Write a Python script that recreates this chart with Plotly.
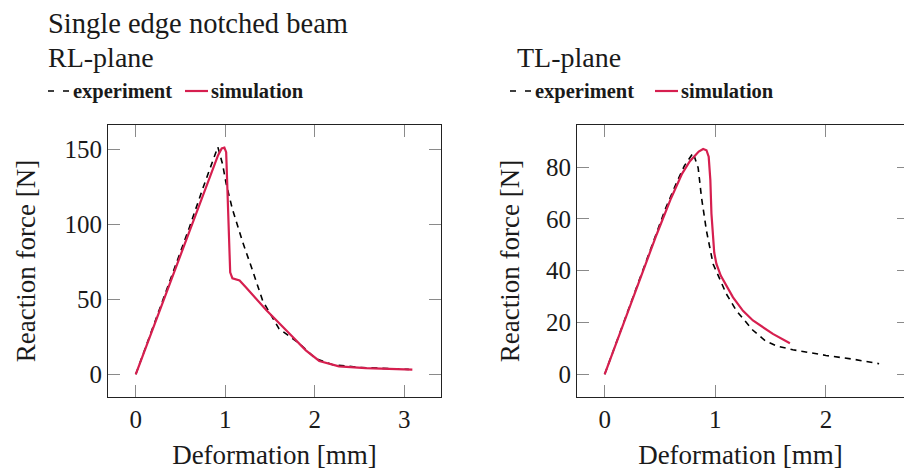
import plotly.graph_objects as go

# ---- data: reaction force vs. deformation -------------------------------
# RL-plane
rl_exp_x = [0.0, 0.3, 0.6, 0.75, 0.85, 0.917, 0.97, 1.01, 1.08, 1.195, 1.306,
            1.418, 1.6, 1.83, 2.01, 2.2, 2.5, 2.8, 3.05]
rl_exp_y = [0.0, 48.5, 98, 124, 141, 151.5, 140, 127, 110, 88, 69,
            49, 30.4, 20.4, 10.4, 6.4, 4.6, 3.8, 3.3]
rl_sim_x = [0.0, 0.3, 0.6, 0.75, 0.85, 0.92, 0.96, 0.99, 1.01, 1.025, 1.04,
            1.055, 1.08, 1.12, 1.16, 1.23, 1.35, 1.46, 1.68, 1.9, 2.05,
            2.27, 2.57, 2.85, 3.09]
rl_sim_y = [0.0, 48, 96, 120, 136, 146, 150.5, 151, 148, 125, 90,
            68, 64, 63, 62.5, 58, 50, 42.7, 29.3, 16, 8.9,
            5.3, 4.2, 3.6, 3.1]

# TL-plane
tl_exp_x = [0.0, 0.3, 0.55, 0.65, 0.72, 0.8, 0.845, 0.875, 0.92, 0.98, 1.1,
            1.19, 1.34, 1.45, 1.55, 1.7, 2.0, 2.25, 2.48]
tl_exp_y = [0.0, 35, 64, 74, 80.5, 85.5, 79.7, 68.3, 55.4, 42.6, 31,
            24.6, 17, 13, 11, 9.5, 7.3, 5.8, 4.1]
tl_sim_x = [0.0, 0.226, 0.468, 0.6, 0.7, 0.77, 0.85, 0.89, 0.92, 0.94, 0.955,
            0.965, 0.975, 0.99, 1.01, 1.05, 1.16, 1.25, 1.34, 1.52, 1.674]
tl_sim_y = [0.0, 26, 53.8, 68, 77.5, 82.3, 86, 87, 86.5, 84, 75,
            62, 55, 47, 42.6, 38, 29.7, 24.5, 20.8, 15.6, 12]

rl_xticks = [0, 1, 2, 3]
rl_yticks = [0, 50, 100, 150]
tl_xticks = [0, 1, 2]
tl_yticks = [0, 20, 40, 60, 80]

# ---- styling -------------------------------------------------------------
W, H = 904, 470
FONT = "Liberation Serif"
TXT = "#1a1a1a"
RED = "#d61f4f"
DASH = "6px,5px"
TICKC = "#8a8a8a"


def px(x):
    return x / W


def py(y):
    return 1 - y / H


fig = go.Figure()

fig.add_trace(go.Scatter(x=rl_exp_x, y=rl_exp_y, mode="lines",
                         line=dict(color="black", width=1.6, dash=DASH),
                         xaxis="x", yaxis="y", showlegend=False))
fig.add_trace(go.Scatter(x=rl_sim_x, y=rl_sim_y, mode="lines",
                         line=dict(color=RED, width=2.2),
                         xaxis="x", yaxis="y", showlegend=False))
fig.add_trace(go.Scatter(x=tl_exp_x, y=tl_exp_y, mode="lines",
                         line=dict(color="black", width=1.6, dash=DASH),
                         xaxis="x2", yaxis="y2", showlegend=False))
fig.add_trace(go.Scatter(x=tl_sim_x, y=tl_sim_y, mode="lines",
                         line=dict(color=RED, width=2.2),
                         xaxis="x2", yaxis="y2", showlegend=False))
# carrier for the right-hand tick axis of the TL panel
fig.add_trace(go.Scatter(x=[], y=[], xaxis="x2", yaxis="y3",
                         showlegend=False, hoverinfo="skip"))

tickfont = dict(family=FONT, size=25, color=TXT)
titlefont = dict(family=FONT, size=27, color=TXT)

common_axis = dict(showgrid=False, zeroline=False, showline=True,
                   linecolor="#222", linewidth=1.2, ticks="inside",
                   ticklen=12, tickwidth=1, tickcolor=TICKC,
                   tickfont=tickfont)

ydom = [py(397), py(125)]

fig.update_layout(
    width=W, height=H,
    margin=dict(l=0, r=0, t=0, b=0),
    paper_bgcolor="white", plot_bgcolor="white",
    xaxis=dict(common_axis, domain=[px(108), px(441)], range=[-0.31, 3.41],
               tickvals=rl_xticks, mirror="ticks", anchor="y",
               title=dict(text="Deformation [mm]", font=titlefont, standoff=14)),
    yaxis=dict(common_axis, domain=ydom, range=[-15.1, 166.1],
               tickvals=rl_yticks, mirror="ticks", anchor="x",
               title=dict(text="Reaction force [N]", font=titlefont, standoff=20)),
    xaxis2=dict(common_axis, domain=[px(577), 1.0], range=[-0.25, 2.705],
                tickvals=tl_xticks, mirror="ticks", anchor="y2",
                title=dict(text="Deformation [mm]", font=titlefont, standoff=14)),
    yaxis2=dict(common_axis, domain=ydom, range=[-8.75, 96.25],
                tickvals=tl_yticks, mirror=False, anchor="x2",
                title=dict(text="Reaction force [N]", font=titlefont, standoff=18)),
    yaxis3=dict(overlaying="y2", anchor="free", position=1.0, side="right",
                range=[-8.75, 96.25], tickvals=tl_yticks, showgrid=False,
                zeroline=False, showline=False, showticklabels=False,
                ticks="inside", ticklen=7, tickwidth=1, tickcolor=TICKC),
)

# ---- headings and legends ----------------------------------------------
def label(text, x, y, size, bold=False):
    fig.add_annotation(text=f"<b>{text}</b>" if bold else text,
                       x=px(x), y=py(y), xref="paper", yref="paper",
                       xanchor="left", yanchor="middle", showarrow=False,
                       font=dict(family=FONT, size=size, color=TXT))


label("Single edge notched beam", 46, 23, 28.5)
label("RL-plane", 46, 58, 28)
label("TL-plane", 515, 58, 28)

legend_y = 91
for x0, tx, rx0, sx in [(48, 71, 185, 209), (510, 533, 655, 679)]:
    fig.add_shape(type="line", xref="paper", yref="paper",
                  x0=px(x0), x1=px(x0 + 21), y0=py(legend_y), y1=py(legend_y),
                  line=dict(color="black", width=1.6, dash="6px,9px"))
    label("experiment", tx, legend_y, 20.5, bold=True)
    fig.add_shape(type="line", xref="paper", yref="paper",
                  x0=px(rx0), x1=px(rx0 + 23), y0=py(legend_y), y1=py(legend_y),
                  line=dict(color=RED, width=2.2))
    label("simulation", sx, legend_y, 20.5, bold=True)

fig.write_html("out.html")
